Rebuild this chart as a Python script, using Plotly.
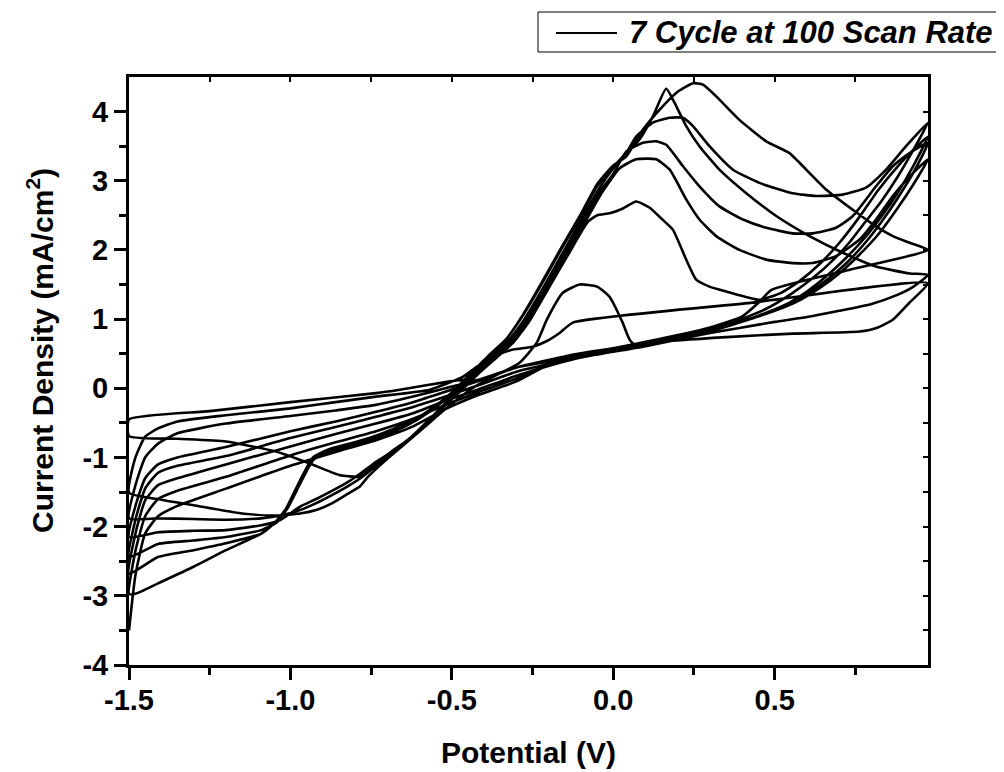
import plotly.graph_objects as go

LEGEND_NAME = "7 Cycle at 100 Scan Rate"
X_TITLE = "Potential (V)"
Y_TITLE = "Current Density (mA/cm<sup>2</sup>)"
X_TICKS = [-1.5, -1.0, -0.5, 0.0, 0.5]
X_TICKTEXT = ["-1.5", "-1.0", "-0.5", "0.0", "0.5"]
X_MINOR = [-1.25, -0.75, -0.25, 0.25, 0.75]
Y_TICKS = [-4, -3, -2, -1, 0, 1, 2, 3, 4]
Y_TICKTEXT = ["-4", "-3", "-2", "-1", "0", "1", "2", "3", "4"]
Y_MINOR = [-3.5, -2.5, -1.5, -0.5, 0.5, 1.5, 2.5, 3.5]

# initial sweep
E_start = [-0.45, -0.506, -0.661, -0.735, -1.0, -1.25, -1.5]
I_start = [0.13, 0.10, -0.02, -0.07, -0.20, -0.33, -0.45]

E_cycle1 = [-1.5, -1.35, -1.20, -1.045, -0.942, -0.849, -0.787, -0.75, -0.68, -0.62, -0.52, -0.43, -0.35, -0.29,
            -0.237, -0.206, -0.156, -0.104, -0.05, -0.011, 0.029, 0.051, 0.073, 0.144, 0.351, 0.556, 0.763, 0.82,
            0.866, 0.918, 0.975,
            0.425, -0.125, -0.166, -0.207, -0.25, -0.31, -0.38, -0.465, -0.568, -0.735, -0.86, -1.0, -1.2, -1.35,
            -1.41, -1.45, -1.48, -1.5]
I_cycle1 = [-0.69, -0.73, -0.77, -0.915, -1.084, -1.253, -1.277, -1.15, -0.89, -0.70, -0.30, 0.02, 0.22, 0.37,
            0.66, 0.99, 1.38, 1.50, 1.47, 1.32, 0.95, 0.70, 0.60, 0.67, 0.74, 0.79, 0.82, 0.88,
            0.99, 1.24, 1.52,
            1.235, 0.95, 0.80, 0.68, 0.60, 0.56, 0.45, 0.17, -0.02, -0.12, -0.20, -0.29, -0.39, -0.48,
            -0.58, -0.70, -1.0, -1.51]

E_cycle2 = [-1.5, -1.40, -1.30, -1.15, -1.05, -0.97, -0.92, -0.87, -0.82, -0.785, -0.76, -0.70, -0.63, -0.55,
            -0.48, -0.42, -0.36, -0.31, -0.26, -0.20, -0.14, -0.08, -0.05, -0.011, 0.03, 0.071, 0.113, 0.15,
            0.185, 0.226, 0.257, 0.298, 0.35, 0.453, 0.52, 0.58, 0.64, 0.70, 0.76, 0.82, 0.88, 0.93, 0.975,
            0.93, 0.88, 0.83, 0.78, 0.72, 0.66, 0.60, 0.53, 0.45, 0.37, 0.25, 0.10, -0.06, -0.17, -0.30, -0.42,
            -0.52, -0.62, -0.735, -0.86, -1.0, -1.2, -1.35, -1.41, -1.45, -1.48, -1.5]
I_cycle2 = [-1.51, -1.61, -1.69, -1.81, -1.84, -1.81, -1.76, -1.66, -1.52, -1.42, -1.28, -1.02, -0.74, -0.38,
            -0.07, 0.20, 0.45, 0.66, 0.97, 1.45, 1.93, 2.40, 2.50, 2.53, 2.60, 2.70, 2.61, 2.45,
            2.29, 1.86, 1.57, 1.47, 1.40, 1.28, 1.38, 1.56, 1.80, 2.10, 2.46, 2.86, 3.20, 3.45, 3.64,
            3.22, 2.82, 2.48, 2.18, 1.88, 1.62, 1.40, 1.20, 1.05, 0.93, 0.78, 0.63, 0.50, 0.41, 0.30, 0.12,
            0.00, -0.12, -0.24, -0.32, -0.40, -0.51, -0.65, -0.80, -1.0, -1.4, -1.88]

E_cycle3 = [-1.5, -1.41, -1.30, -1.20, -1.09, -1.03, -0.97, -0.92, -0.87, -0.82, -0.78, -0.74, -0.69, -0.62,
            -0.55, -0.485, -0.425, -0.365, -0.315, -0.265, -0.205, -0.145, -0.085, -0.035, 0.02, 0.071, 0.133,
            0.175, 0.226, 0.267, 0.319, 0.391, 0.474, 0.556, 0.618, 0.69, 0.763, 0.814, 0.866, 0.918, 0.975,
            0.93, 0.88, 0.82, 0.76, 0.70, 0.64, 0.58, 0.50, 0.42, 0.30, 0.15, 0.0, -0.15, -0.30, -0.42, -0.52,
            -0.62, -0.735, -0.86, -1.0, -1.2, -1.35, -1.41, -1.45, -1.48, -1.5]
I_cycle3 = [-1.88, -1.88, -1.89, -1.90, -1.88, -1.84, -1.76, -1.66, -1.54, -1.41, -1.29, -1.14, -0.96, -0.70,
            -0.38, -0.07, 0.20, 0.45, 0.66, 0.97, 1.45, 1.93, 2.42, 2.83, 3.18, 3.31, 3.31,
            3.16, 2.73, 2.44, 2.20, 2.00, 1.86, 1.81, 1.81, 1.91, 2.15, 2.44, 2.78, 3.06, 3.31,
            2.95, 2.60, 2.22, 1.92, 1.66, 1.45, 1.28, 1.12, 1.00, 0.86, 0.70, 0.57, 0.46, 0.30, 0.10, -0.05,
            -0.20, -0.34, -0.48, -0.62, -0.85, -1.0, -1.1, -1.3, -1.7, -2.15]

E_cycle4 = [-1.5, -1.41, -1.30, -1.20, -1.09, -1.03, -0.97, -0.92, -0.87, -0.82, -0.78, -0.74, -0.69, -0.625,
            -0.555, -0.49, -0.43, -0.37, -0.32, -0.27, -0.21, -0.15, -0.09, -0.04, 0.0, 0.04, 0.092, 0.133,
            0.164, 0.216, 0.267, 0.329, 0.402, 0.474, 0.556, 0.618, 0.69, 0.742, 0.814, 0.866, 0.918, 0.975,
            0.93, 0.88, 0.83, 0.78, 0.72, 0.66, 0.60, 0.53, 0.45, 0.37, 0.25, 0.10, -0.06, -0.17, -0.30, -0.42,
            -0.52, -0.62, -0.735, -0.86, -1.0, -1.2, -1.35, -1.41, -1.45, -1.48, -1.5]
I_cycle4 = [-2.15, -2.08, -2.06, -2.05, -1.98, -1.90, -1.71, -1.60, -1.48, -1.35, -1.22, -1.08, -0.93, -0.70,
            -0.38, -0.07, 0.20, 0.45, 0.67, 0.98, 1.46, 1.95, 2.44, 2.85, 3.10, 3.42, 3.55, 3.57,
            3.52, 3.21, 2.92, 2.63, 2.44, 2.32, 2.24, 2.24, 2.32, 2.49, 2.92, 3.21, 3.40, 3.55,
            3.12, 2.74, 2.40, 2.10, 1.80, 1.56, 1.36, 1.18, 1.04, 0.92, 0.76, 0.61, 0.48, 0.38, 0.24, 0.04,
            -0.12, -0.27, -0.41, -0.56, -0.72, -0.98, -1.12, -1.22, -1.45, -1.9, -2.44]

E_cycle5 = [-1.5, -1.41, -1.30, -1.20, -1.09, -1.04, -1.01, -0.97, -0.93, -0.88, -0.80, -0.72, -0.64, -0.56,
            -0.495, -0.435, -0.375, -0.325, -0.275, -0.215, -0.155, -0.095, -0.045, 0.0, 0.04, 0.071, 0.123,
            0.175, 0.216, 0.247, 0.298, 0.371, 0.453, 0.556, 0.629, 0.711, 0.783, 0.845, 0.907, 0.975,
            0.93, 0.88, 0.83, 0.78, 0.73, 0.68, 0.62, 0.556, 0.474, 0.37, 0.25, 0.10, -0.06, -0.166, -0.30,
            -0.42, -0.52, -0.62, -0.735, -0.86, -1.0, -1.2, -1.35, -1.41, -1.45, -1.48, -1.5]
I_cycle5 = [-2.44, -2.25, -2.20, -2.15, -2.05, -1.93, -1.71, -1.33, -1.00, -0.88, -0.78, -0.66, -0.50, -0.30,
            -0.06, 0.21, 0.47, 0.69, 1.00, 1.47, 1.97, 2.47, 2.88, 3.18, 3.40, 3.64, 3.84,
            3.91, 3.91, 3.79, 3.50, 3.16, 2.97, 2.82, 2.78, 2.80, 2.90, 3.16, 3.50, 3.84,
            3.45, 3.05, 2.70, 2.40, 2.10, 1.85, 1.60, 1.38, 1.15, 0.95, 0.78, 0.62, 0.49, 0.37, 0.18,
            -0.02, -0.18, -0.36, -0.51, -0.66, -0.84, -1.10, -1.30, -1.40, -1.62, -2.1, -2.68]

E_cycle6 = [-1.5, -1.41, -1.30, -1.20, -1.09, -1.05, -1.01, -0.97, -0.93, -0.88, -0.80, -0.72, -0.64, -0.57,
            -0.50, -0.44, -0.38, -0.33, -0.28, -0.22, -0.16, -0.10, -0.05, 0.0, 0.04, 0.082, 0.123, 0.164,
            0.195, 0.226, 0.267, 0.329, 0.412, 0.505, 0.608, 0.711, 0.814, 0.918, 0.975,
            0.93, 0.88, 0.80, 0.70, 0.60, 0.50, 0.40, 0.30, 0.15, 0.0, -0.15, -0.30, -0.42, -0.52, -0.62,
            -0.735, -0.86, -1.0, -1.2, -1.35, -1.41, -1.45, -1.48, -1.5]
I_cycle6 = [-2.68, -2.44, -2.34, -2.24, -2.10, -1.95, -1.72, -1.35, -1.02, -0.90, -0.80, -0.68, -0.52, -0.32,
            -0.06, 0.22, 0.50, 0.72, 1.05, 1.52, 2.02, 2.50, 2.92, 3.20, 3.40, 3.60, 3.93, 4.33,
            4.08, 3.79, 3.50, 3.16, 2.82, 2.49, 2.20, 1.96, 1.76, 1.66, 1.64,
            1.47, 1.35, 1.22, 1.12, 1.03, 0.96, 0.88, 0.80, 0.66, 0.53, 0.42, 0.14, -0.06, -0.24, -0.44,
            -0.62, -0.78, -0.97, -1.28, -1.48, -1.60, -1.85, -2.35, -2.97]

E_cycle7 = [-1.5, -1.48, -1.41, -1.30, -1.20, -1.09, -1.05, -1.01, -0.97, -0.93, -0.88, -0.80, -0.72, -0.64,
            -0.57, -0.50, -0.44, -0.38, -0.33, -0.28, -0.22, -0.16, -0.10, -0.05, 0.0, 0.04, 0.092, 0.144,
            0.195, 0.247, 0.278, 0.319, 0.391, 0.474, 0.546, 0.577, 0.66, 0.742, 0.814, 0.866, 0.92, 0.975,
            0.73, 0.489, 0.453, 0.40, 0.30, 0.15, 0.0, -0.15, -0.30, -0.42, -0.52, -0.62, -0.735, -0.86, -1.0,
            -1.2, -1.35, -1.41, -1.45, -1.48, -1.5]
I_cycle7 = [-2.97, -2.97, -2.82, -2.58, -2.34, -2.10, -1.95, -1.74, -1.38, -1.04, -0.92, -0.82, -0.70, -0.54,
            -0.34, -0.08, 0.20, 0.48, 0.72, 1.06, 1.54, 2.04, 2.52, 2.95, 3.22, 3.35, 3.74, 4.03,
            4.27, 4.41, 4.39, 4.22, 3.88, 3.57, 3.40, 3.26, 2.87, 2.58, 2.34, 2.20, 2.10, 2.00,
            1.71, 1.42, 1.25, 1.04, 0.88, 0.72, 0.58, 0.46, 0.10, -0.10, -0.30, -0.55, -0.75, -0.92, -1.12,
            -1.45, -1.70, -1.85, -2.10, -2.70, -3.50]

sweeps = [(E_start, I_start), (E_cycle1, I_cycle1), (E_cycle2, I_cycle2), (E_cycle3, I_cycle3),
          (E_cycle4, I_cycle4), (E_cycle5, I_cycle5), (E_cycle6, I_cycle6), (E_cycle7, I_cycle7)]

E_all, I_all = [], []
for E, I in sweeps:
    for e, i in zip(E, I):
        if E_all and e == E_all[-1] and i == I_all[-1]:
            continue
        E_all.append(e)
        I_all.append(i)

FONT = "Liberation Sans, Arial, Helvetica, sans-serif"
# the page body adds an 8 px offset; work in page pixels and subtract it
OFF = 8
W, H = 1004 - OFF, 772 - OFF
L, T = 129 - OFF, 77 - OFF
R = W - (928 - OFF)
B = H - (665 - OFF)
PW, PH = W - L - R, H - T - B


def px(xp):
    return (xp - OFF - L) / PW


def py(yp):
    return (H - B - (yp - OFF)) / PH


fig = go.Figure()
fig.add_trace(go.Scatter(x=E_all, y=I_all, mode="lines", name=LEGEND_NAME, showlegend=False,
                         line=dict(color="black", width=2.6, shape="spline", smoothing=0.5),
                         hoverinfo="skip"))
# carrier for the mirrored (top/right) tick axes
fig.add_trace(go.Scatter(x=[None], y=[None], xaxis="x2", yaxis="y2", showlegend=False,
                         hoverinfo="skip", mode="lines"))

axis_common = dict(showline=True, linewidth=3, linecolor="black", mirror=True, showgrid=False,
                   zeroline=False, ticks="outside", ticklen=12, tickwidth=2.5, tickcolor="black",
                   tickfont=dict(family=FONT, size=29, color="black", weight="bold"))

fig.update_layout(
    width=W, height=H, margin=dict(l=L, r=R, t=T, b=B),
    paper_bgcolor="white", plot_bgcolor="white",
    font=dict(family=FONT, color="black"),
    xaxis=dict(range=[-1.5, 0.975], tickmode="array", tickvals=X_TICKS, ticktext=X_TICKTEXT,
               ticklabelstandoff=-5,
               minor=dict(tickmode="array", tickvals=X_MINOR, ticks="outside", ticklen=7, tickwidth=2.5,
                          tickcolor="black", showgrid=False),
               **axis_common),
    yaxis=dict(range=[-4, 4.5], tickmode="array", tickvals=Y_TICKS, ticktext=Y_TICKTEXT,
               minor=dict(tickmode="array", tickvals=Y_MINOR, ticks="outside", ticklen=7, tickwidth=2.5,
                          tickcolor="black", showgrid=False),
               **axis_common),
    xaxis2=dict(overlaying="x", side="top", range=[-1.5, 0.975], tickmode="array",
                tickvals=X_TICKS + X_MINOR, ticks="inside", ticklen=5, tickwidth=2, tickcolor="black",
                showticklabels=False, showline=False, showgrid=False, zeroline=False),
    yaxis2=dict(overlaying="y", side="right", range=[-4, 4.5], tickmode="array",
                tickvals=Y_TICKS + Y_MINOR, ticks="inside", ticklen=5, tickwidth=2, tickcolor="black",
                showticklabels=False, showline=False, showgrid=False, zeroline=False),
    showlegend=False,
)

# axis titles
fig.add_annotation(text=X_TITLE, xref="paper", yref="paper", x=px(528), y=py(752), xanchor="center",
                   yanchor="middle", showarrow=False, font=dict(family=FONT, size=30, weight="bold"))
fig.add_annotation(text=Y_TITLE, xref="paper", yref="paper", x=px(40), y=py(351), xanchor="center",
                   yanchor="middle", textangle=-90, showarrow=False,
                   font=dict(family=FONT, size=30, weight="bold"))

# legend box
fig.add_shape(type="rect", xref="paper", yref="paper", x0=px(538), x1=px(1012), y0=py(52), y1=py(12),
              line=dict(color="black", width=1), fillcolor="white")
fig.add_shape(type="line", xref="paper", yref="paper", x0=px(556), x1=px(617), y0=py(33), y1=py(33),
              line=dict(color="black", width=2.2))
fig.add_annotation(text="<i>" + LEGEND_NAME + "</i>", xref="paper", yref="paper", x=px(627), y=py(33),
                   xanchor="left", yanchor="middle", showarrow=False,
                   font=dict(family=FONT, size=31, weight="bold"))

fig.write_html("out.html")
